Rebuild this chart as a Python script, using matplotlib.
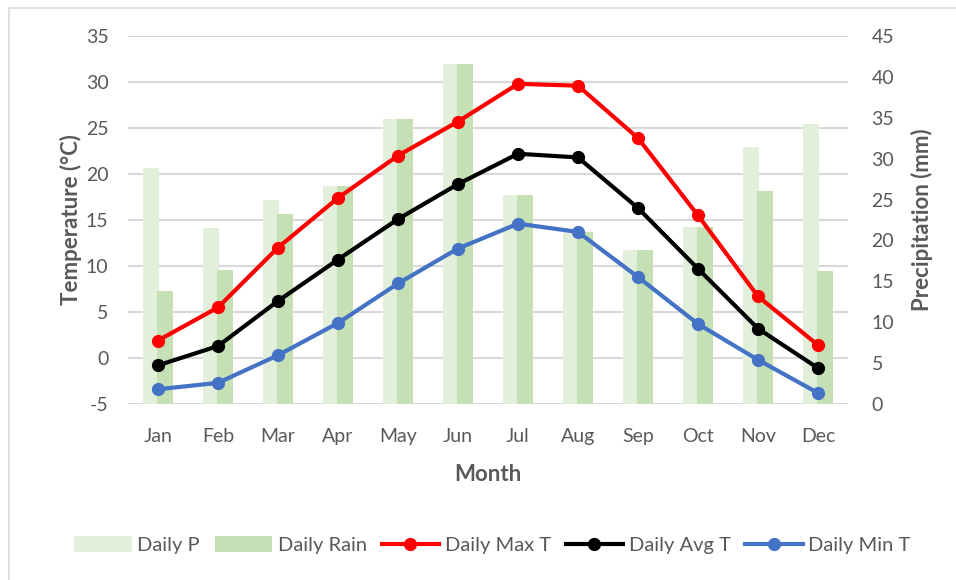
import matplotlib
matplotlib.use("Agg")
import matplotlib.pyplot as plt
import numpy as np
from matplotlib.patches import Rectangle

months = ["Jan", "Feb", "Mar", "Apr", "May", "Jun", "Jul", "Aug", "Sep", "Oct", "Nov", "Dec"]
max_t = [1.9, 5.5, 12.0, 17.4, 22.0, 25.7, 29.8, 29.6, 23.9, 15.5, 6.7, 1.4]
avg_t = [-0.8, 1.3, 6.2, 10.7, 15.1, 18.9, 22.2, 21.8, 16.3, 9.7, 3.2, -1.1]
min_t = [-3.4, -2.7, 0.3, 3.8, 8.1, 11.9, 14.6, 13.7, 8.8, 3.7, -0.2, -3.8]
daily_p = [28.9, 21.5, 25.0, 26.7, 34.9, 41.6, 25.6, 21.0, 18.8, 21.6, 31.4, 34.3]
daily_rain = [13.8, 16.4, 23.2, 26.7, 34.9, 41.6, 25.6, 21.0, 18.8, 21.6, 26.1, 16.3]
temp_ticks = [-5, 0, 5, 10, 15, 20, 25, 30, 35]
precip_ticks = [0, 5, 10, 15, 20, 25, 30, 35, 40, 45]

FONT = "Lato"
TXT = "#595959"
plt.rcParams["font.family"] = [FONT, "DejaVu Sans"]
TS = 14
LS = 16

W, H = 956, 580
fig = plt.figure(figsize=(W / 100, H / 100), dpi=100)
l, r, t, b = 128, 848, 36, 404
rect = [l / W, 1 - b / H, (r - l) / W, (b - t) / H]

ax = fig.add_axes(rect)            # temperature scale + gridlines (bottom)
ax2 = ax.twinx()                   # precipitation bars
ax3 = ax.twinx()                   # temperature lines (top)
ax.set_zorder(1)
ax2.set_zorder(2)
ax3.set_zorder(3)
ax2.patch.set_visible(False)
ax3.patch.set_visible(False)

x = np.arange(len(months))
for a in (ax, ax2, ax3):
    a.set_xlim(-0.5, len(months) - 0.5)
    for s in a.spines.values():
        s.set_visible(False)

ax.set_ylim(-5, 35)
ax3.set_ylim(-5, 35)
ax2.set_ylim(0, 45)

ax.set_yticks(temp_ticks)
ax.set_yticklabels([str(v) for v in temp_ticks])
ax.grid(axis="y", color="#D9D9D9", linewidth=1.5)
ax.set_axisbelow(True)
ax.tick_params(axis="y", length=0, pad=14, labelsize=TS, labelcolor=TXT)
ax.set_xticks(x)
ax.set_xticklabels(months)
ax.tick_params(axis="x", length=0, pad=17, labelsize=TS, labelcolor=TXT)

ax2.set_yticks(precip_ticks)
ax2.set_yticklabels([str(v) for v in precip_ticks])
ax2.tick_params(axis="y", length=0, pad=17, labelsize=TS, labelcolor=TXT)
ax2.tick_params(axis="x", length=0, labelbottom=False)
ax3.set_yticks([])
ax3.tick_params(axis="x", length=0, labelbottom=False)

bw = 0.265
bp = ax2.bar(x - 0.118, daily_p, width=bw, color="#E2EFDA", label="Daily P", zorder=2)
br = ax2.bar(x + 0.118, daily_rain, width=bw, color="#C5E0B4", label="Daily Rain", zorder=3)

lw, ms = 3.0, 8.5
l1, = ax3.plot(x, max_t, color="#FF0000", lw=lw, marker="o", ms=ms, label="Daily Max T")
l2, = ax3.plot(x, avg_t, color="#000000", lw=lw, marker="o", ms=ms, label="Daily Avg T")
l3, = ax3.plot(x, min_t, color="#4472C4", lw=lw, marker="o", ms=ms, label="Daily Min T")

ax.set_ylabel("Temperature (°C)", fontsize=LS, fontweight="bold", color=TXT, labelpad=3)
ax2.set_ylabel("Precipitation (mm)", fontsize=LS, fontweight="bold", color=TXT, labelpad=12)
ax.set_xlabel("Month", fontsize=LS, fontweight="bold", color=TXT, labelpad=14)

leg = fig.legend(handles=[bp, br, l1, l2, l3], loc="center", bbox_to_anchor=(0.515, 1 - 545 / H),
                 ncol=5, frameon=False, fontsize=14.5, handlelength=2.85, handleheight=0.8,
                 handletextpad=0.27, columnspacing=0.75, borderaxespad=0)
for txt in leg.get_texts():
    txt.set_color(TXT)

fig.patches.append(Rectangle((9 / W, -0.1), 1.2, 1 - 8 / H + 0.1, transform=fig.transFigure,
                             fill=False, edgecolor="#D9D9D9", linewidth=1.2, zorder=0))

fig.savefig("out.png", dpi=100)
